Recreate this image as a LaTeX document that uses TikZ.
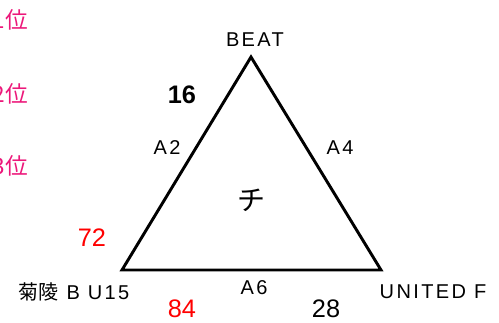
\documentclass[tikz,border=0pt]{standalone}
\usepackage{fontspec}
\setmainfont{Liberation Sans}
\newfontfamily\jpfont{Noto Sans CJK JP}
\newfontfamily\widefont[LetterSpace=12]{Liberation Sans}
\usetikzlibrary{positioning}
\definecolor{rankpink}{RGB}{236,24,122}
\definecolor{scorered}{RGB}{255,0,0}
\tikzset{
  team/.style ={inner sep=0pt, font=\fontsize{15}{15}\widefont},
  court/.style={inner sep=0pt, font=\fontsize{15}{15}\widefont},
  score/.style={inner sep=0pt, font=\fontsize{19}{20}\selectfont},
  rank/.style ={inner sep=0pt, anchor=east, text=rankpink, font=\fontsize{17}{17}\jpfont},
  side/.style ={line width=2.2pt, line join=miter},
}

\begin{document}
\begin{tikzpicture}[x=0.75pt, y=-0.75pt]
\useasboundingbox (0,0) rectangle (499,322);
\clip (0,0) rectangle (499,322);
\coordinate (top) at (251,57);
\coordinate (bl) at (122,270);
\coordinate (br) at (381,270);
\draw[side] (top) -- (br) -- (bl) -- cycle;
\node[team] (beat) at (255,40) {BEAT};
\node[team] (kiku) at (74,292) {{\jpfont 菊陵} B U15};
\node[team] (utd) at (433,292) {UNITED F};
\node[court] (a2) at (167,148) {A2};
\node[court] (a4) at (340,148) {A4};
\node[court] (a6) at (254,288) {A6};
\node[inner sep=0pt, font=\fontsize{21}{21}\jpfont] (grp) at (251,200) {チ};
\node[score, font=\fontsize{19}{20}\selectfont\bfseries] (s16) at (182,95) {16};
\node[score, text=scorered] (s72) at (92,238) {72};
\node[score, text=scorered] (s84) at (182,309) {84};
\node[score] (s28) at (326,309) {28};
\node[rank] (r1) at (28,20) {1位};
\node[rank] (r2) at (28,94) {2位};
\node[rank] (r3) at (28,166) {3位};
\end{tikzpicture}
\end{document}
